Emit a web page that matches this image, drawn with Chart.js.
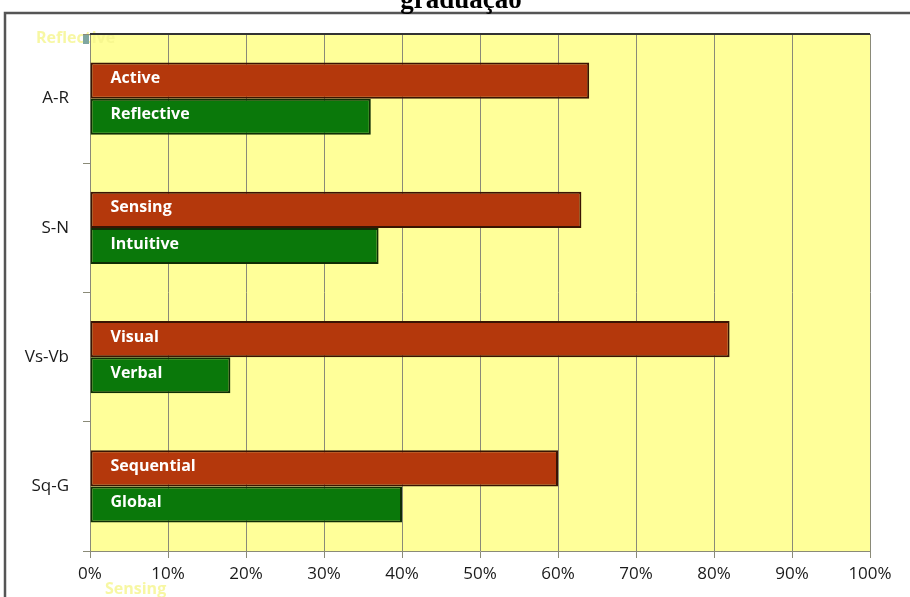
<!DOCTYPE html>
<html>
<head>
<meta charset="utf-8">
<script src="https://cdn.jsdelivr.net/npm/chart.js@4/dist/chart.umd.min.js"></script>
<style>
  html, body { margin: 0; padding: 0; background: #fff; }
  #wrap { width: 910px; height: 597px; position: relative; }
</style>
</head>
<body>
<div id="wrap"><canvas id="styles" width="910" height="597"></canvas></div>
<script>
const categories = ['A-R', 'S-N', 'Vs-Vb', 'Sq-G'];
const firstNames = ['Active', 'Sensing', 'Visual', 'Sequential'];
const secondNames = ['Reflective', 'Intuitive', 'Verbal', 'Global'];
const firstValues = [64, 63, 82, 60];
const secondValues = [36, 37, 18, 40];
const xTicks = [0, 10, 20, 30, 40, 50, 60, 70, 80, 90, 100];

const labelFont = '"Open Sans", Lato, sans-serif';

// white page, frame, cut-off title, yellow plot and faded leftovers
const decorPlugin = {
  id: 'decor',
  beforeDraw(chart) {
    const { ctx, chartArea: a } = chart;
    ctx.save();
    ctx.fillStyle = '#fff';
    ctx.fillRect(0, 0, chart.width, chart.height);
    ctx.fillStyle = '#FFFF99';
    ctx.fillRect(a.left, a.top, a.right - a.left, a.bottom - a.top);
    ctx.strokeStyle = '#555';
    ctx.lineWidth = 2.5;
    ctx.beginPath();
    ctx.moveTo(5, 600);
    ctx.lineTo(5, 13);
    ctx.lineTo(912, 13);
    ctx.stroke();
    ctx.fillStyle = '#000';
    ctx.font = 'bold 27px "Liberation Serif", serif';
    ctx.textAlign = 'center';
    ctx.textBaseline = 'alphabetic';
    ctx.fillText('graduação', 461, 8);
    ctx.font = 'bold 16px ' + labelFont;
    ctx.textAlign = 'left';
    ctx.textBaseline = 'middle';
    ctx.fillStyle = 'rgba(245,245,140,0.8)';
    ctx.fillText('Reflective', 36, 38);
    ctx.fillText('Sensing', 105, 589);
    ctx.fillStyle = '#7fa6a0';
    ctx.fillRect(83, 35, 6, 9);
    ctx.restore();
  },
  beforeDatasetsDraw(chart) {
    const { ctx, chartArea: a } = chart;
    ctx.save();
    ctx.strokeStyle = '#333';
    ctx.lineWidth = 2;
    ctx.beginPath();
    ctx.moveTo(a.left, a.top);
    ctx.lineTo(a.right, a.top);
    ctx.stroke();
    ctx.restore();
  }
};

const barText = {
  id: 'barText',
  afterDatasetsDraw(chart) {
    const ctx = chart.ctx;
    const names = [firstNames, secondNames];
    ctx.save();
    ctx.fillStyle = '#fff';
    ctx.font = 'bold 16px ' + labelFont;
    ctx.textAlign = 'left';
    ctx.textBaseline = 'middle';
    chart.data.datasets.forEach((ds, i) => {
      chart.getDatasetMeta(i).data.forEach((bar, j) => {
        ctx.fillText(names[i][j], bar.base + 20, bar.y - 2);
      });
    });
    ctx.restore();
  }
};

new Chart(document.getElementById('styles'), {
  type: 'bar',
  data: {
    labels: categories,
    datasets: [
      { label: 'first', data: firstValues, backgroundColor: '#B4380C', borderColor: '#3a1403', borderWidth: 2, borderSkipped: false },
      { label: 'second', data: secondValues, backgroundColor: '#0A780A', borderColor: '#0f2e05', borderWidth: 2, borderSkipped: false }
    ]
  },
  options: {
    indexAxis: 'y',
    responsive: false,
    animation: false,
    layout: { padding: { top: 34, right: 40, left: 0, bottom: 0 } },
    datasets: { bar: { categoryPercentage: 0.56, barPercentage: 1 } },
    plugins: { legend: { display: false }, title: { display: false }, tooltip: { enabled: false } },
    scales: {
      x: {
        min: 0, max: 100,
        afterBuildTicks(scale) { scale.ticks = xTicks.map(v => ({ value: v })); },
        afterFit(scale) { scale.height = 46; },
        ticks: { color: '#1a1a1a', font: { family: labelFont, size: 17 }, padding: 6, callback: v => v + '%' },
        grid: { color: '#8a8a78', lineWidth: 1, tickLength: 7 },
        border: { color: '#8a8a78' }
      },
      y: {
        afterFit(scale) { scale.width = 90; },
        ticks: { color: '#1a1a1a', font: { family: labelFont, size: 17 }, padding: 14 },
        grid: { drawOnChartArea: false, tickLength: 7, color: '#8a8a78' },
        border: { color: '#8a8a78' }
      }
    }
  },
  plugins: [decorPlugin, barText]
});
</script>
</body>
</html>
